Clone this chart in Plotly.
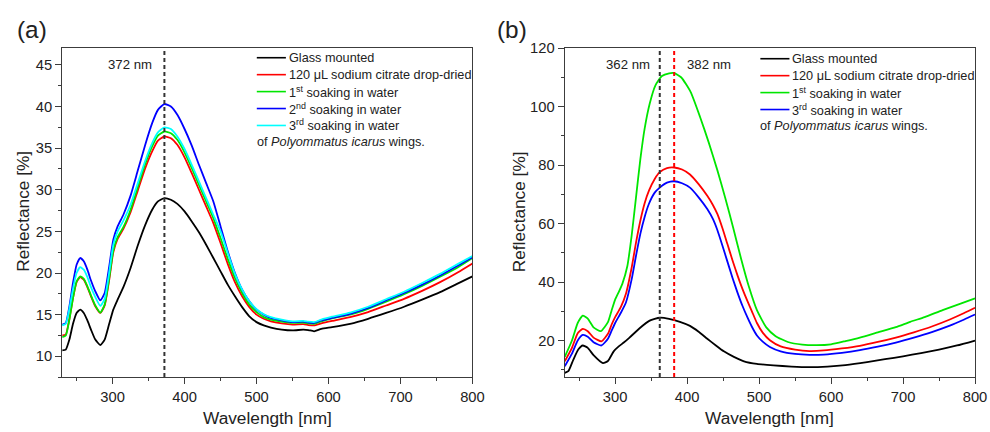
import plotly.graph_objects as go

# ---------------- panel (a): reflectance spectra, 5 sample states ----------------
wl_a = [230, 235, 240, 245, 250, 255, 260, 265, 270, 276, 283, 289, 295, 301, 307,
        315, 325, 335, 345, 355, 363, 372, 381, 390, 400, 410, 420, 430, 440, 450,
        460, 470, 480, 490, 500, 510, 520, 535, 550, 565, 572, 580, 590, 605, 630,
        655, 680, 705, 730, 755, 780, 800]
glass_a = [10.7, 10.8, 12.0, 13.9, 15.2, 15.6, 15.2, 14.3, 13.2, 12.0, 11.35, 12.0, 13.8, 15.6, 16.8,
           18.3, 20.6, 23.3, 25.7, 27.6, 28.6, 29.0, 28.8, 28.3, 27.4, 26.2, 24.9, 23.4, 21.8, 20.2,
           18.6, 17.2, 15.9, 14.8, 14.1, 13.7, 13.45, 13.2, 13.1, 13.2, 13.15, 13.0, 13.3, 13.5, 13.9,
           14.5, 15.2, 15.95, 16.8, 17.7, 18.75, 19.6]
citrate_a = [12.5, 12.6, 14.5, 17.0, 18.9, 19.5, 19.2, 18.3, 17.2, 16.0, 15.2, 16.1, 19.0, 22.5, 24.1,
             25.3, 27.3, 29.9, 32.5, 34.6, 35.9, 36.4, 36.2, 35.4, 33.9, 32.0, 30.0, 28.0, 26.0, 23.6,
             21.1, 18.9, 17.2, 15.9, 15.0, 14.5, 14.2, 13.95, 13.8, 13.85, 13.75, 13.7, 13.95, 14.25, 14.7,
             15.3, 16.1, 16.9, 17.85, 18.9, 20.1, 21.15]
soak1_a = [12.3, 12.5, 14.4, 17.0, 19.0, 19.6, 19.3, 18.4, 17.3, 16.1, 15.25, 16.2, 19.2, 22.7, 24.3,
           25.5, 27.6, 30.3, 33.0, 35.2, 36.5, 37.0, 36.8, 36.0, 34.5, 32.6, 30.6, 28.6, 26.6, 24.2,
           21.7, 19.4, 17.6, 16.2, 15.3, 14.7, 14.4, 14.15, 14.0, 14.05, 13.95, 13.9, 14.2, 14.55, 15.0,
           15.7, 16.55, 17.45, 18.45, 19.55, 20.7, 21.8]
soak2_a = [13.8, 14.0, 16.0, 18.8, 21.0, 21.8, 21.4, 20.4, 19.1, 17.8, 16.7, 17.6, 20.6, 24.0, 25.6,
           27.0, 29.3, 32.3, 35.3, 38.0, 39.6, 40.3, 40.0, 39.0, 37.3, 35.3, 33.0, 30.8, 28.6, 25.6,
           22.6, 20.0, 18.0, 16.6, 15.6, 15.0, 14.6, 14.3, 14.1, 14.15, 14.05, 14.0, 14.3, 14.6, 15.1,
           15.8, 16.7, 17.6, 18.6, 19.7, 20.9, 21.9]
soak3_a = [13.7, 13.9, 15.7, 18.1, 20.0, 20.7, 20.4, 19.5, 18.3, 17.1, 16.05, 16.9, 19.9, 23.4, 25.0,
           26.3, 28.2, 30.8, 33.4, 35.6, 36.9, 37.5, 37.3, 36.4, 34.9, 33.0, 31.0, 29.0, 27.0, 25.0,
           22.4, 19.9, 18.0, 16.6, 15.65, 15.05, 14.7, 14.4, 14.2, 14.25, 14.15, 14.1, 14.4, 14.75, 15.25,
           15.95, 16.85, 17.75, 18.8, 19.9, 21.1, 22.05]

# ---------------- panel (b): reflectance spectra, 4 sample states ----------------
wl_glass_b = [230, 235, 242, 249, 255, 262, 270, 283, 290, 298, 305, 312, 320, 334, 348,
              362, 375, 390, 404, 416, 428, 440, 451, 465, 479, 497, 520, 545, 570, 595,
              620, 650, 675, 700, 725, 750, 775, 800]
glass_b = [8.9, 9.5, 13.5, 17.0, 18.3, 17.5, 15.0, 12.3, 13.0, 16.3, 18.0, 19.3, 21.0, 24.2, 26.8,
           27.8, 27.4, 26.4, 25.0, 23.0, 20.6, 18.3, 16.3, 14.4, 12.9, 12.0, 11.5, 11.1, 10.9, 11.1,
           11.6, 12.6, 13.6, 14.6, 15.7, 16.9, 18.3, 20.0]
wl_rb_b = [230, 240, 248, 255, 262, 270, 281, 290, 295, 300, 308, 315, 323, 329, 335,
           341, 347, 355, 362, 372, 382, 393, 404, 416, 428, 436, 442, 449, 456, 463,
           470, 477, 484, 490, 497, 505, 515, 530, 550, 570, 590, 615, 640, 665, 690,
           715, 740, 765, 785, 800]
citrate_b = [12.9, 17.5, 22.5, 24.0, 23.2, 21.0, 19.7, 22.3, 25.4, 28.0, 31.5, 36.0, 45.0, 53.5, 61.0,
             67.0, 71.3, 75.3, 77.6, 79.0, 79.2, 78.5, 76.8, 73.5, 69.5, 66.3, 63.3, 58.5, 53.0, 47.5,
             42.3, 37.6, 33.4, 30.0, 26.0, 22.7, 20.1, 18.0, 16.9, 16.4, 16.6, 17.3, 18.2, 19.5, 21.0,
             22.8, 24.8, 27.2, 29.4, 31.2]
soak3_b = [11.2, 15.5, 20.0, 21.9, 21.3, 19.4, 18.3, 20.6, 23.3, 26.0, 29.5, 33.0, 41.0, 49.0, 56.5,
           62.3, 66.8, 70.6, 72.3, 74.0, 74.5, 73.8, 72.3, 69.0, 65.0, 61.5, 57.8, 52.5, 47.0, 41.5,
           36.4, 31.8, 27.8, 24.7, 21.7, 19.6, 17.8, 16.3, 15.4, 15.1, 15.2, 15.8, 16.7, 17.9, 19.3,
           21.0, 22.9, 25.1, 27.2, 28.9]
wl_soak1_b = [230, 240, 248, 255, 262, 270, 280, 290, 295, 300, 305, 310, 317, 323, 329,
              335, 341, 348, 356, 365, 375, 382, 392, 405, 418, 430, 442, 453, 464, 475,
              486, 497, 510, 523, 540, 560, 580, 600, 620, 640, 665, 690, 710, 730, 755,
              780, 800]
soak1_b = [14.4, 20.0, 26.0, 28.5, 27.5, 24.5, 23.2, 26.3, 30.2, 34.0, 36.6, 39.4, 45.5, 56.0, 69.0,
           82.0, 92.5, 101.0, 107.3, 110.5, 111.4, 111.5, 110.0, 105.0, 96.5, 87.8, 78.3, 68.8, 58.6, 48.0,
           38.3, 30.4, 24.5, 21.5, 19.5, 18.6, 18.4, 18.7, 19.8, 21.0, 22.8, 24.6, 26.4, 28.0, 30.4,
           32.6, 34.4]

# peak markers (nm)
peak_a = [372]
peak_b = [362, 382]

labels = ["Glass mounted", "120 μL sodium citrate drop-dried", "1<sup>st</sup> soaking in water",
          "2<sup>nd</sup> soaking in water", "3<sup>rd</sup> soaking in water"]
footer = "of <i>Polyommatus icarus</i> wings."

BLACK, RED, GREEN, BLUE, CYAN = "#000000", "#ff0000", "#00e600", "#0000ff", "#00ffff"
AXC = "#3c3c3c"
TXT = "#222222"
FONT = "Liberation Sans, Arial, sans-serif"

# layout is designed on a 990 x 432 page grid; the figure canvas is sized so that
# page coordinates map onto it with a uniform scale S and a top offset OY
S, OY = 0.985, 7.6
W = round(990 / S)
H = round((432 - OY) / S)
FS = 1 / S   # font scale

fig = go.Figure()


def curve(x, y, color, xa, ya):
    fig.add_trace(go.Scatter(x=x, y=y, mode="lines", xaxis=xa, yaxis=ya,
                             line=dict(color=color, width=1.8, shape="spline", smoothing=0.5),
                             showlegend=False, hoverinfo="skip"))


curve(wl_a, glass_a, BLACK, "x", "y")
curve(wl_a, citrate_a, RED, "x", "y")
curve(wl_a, soak1_a, GREEN, "x", "y")
curve(wl_a, soak2_a, BLUE, "x", "y")
curve(wl_a, soak3_a, CYAN, "x", "y")

curve(wl_glass_b, glass_b, BLACK, "x2", "y2")
curve(wl_rb_b, citrate_b, RED, "x2", "y2")
curve(wl_soak1_b, soak1_b, GREEN, "x2", "y2")
curve(wl_rb_b, soak3_b, BLUE, "x2", "y2")


def px(x, y):
    """page-grid pixel -> paper fraction"""
    return (x / S) / W, 1 - ((y - OY) / S) / H


# plot-area boxes on the page grid
left_px = (62, 471)
right_px = (563, 972)
top_px, bot_px = 48, 378
ydom = [px(0, bot_px)[1], px(0, top_px)[1]]


def xax(p, anchor):
    return dict(domain=[px(p[0], 0)[0], px(p[1], 0)[0]], range=[230, 800], anchor=anchor,
                showline=True, linecolor=AXC, linewidth=1.3, mirror=True,
                ticks="outside", ticklen=6, tickwidth=1.2, tickcolor=AXC,
                tick0=0, dtick=100, showgrid=False, zeroline=False,
                tickfont=dict(size=14.5 * FS, color=TXT, family=FONT),
                minor=dict(ticks="outside", ticklen=3, tickwidth=1.1, tickcolor=AXC,
                           dtick=50, tick0=0, showgrid=False))


def yax(rng, dt, anchor):
    return dict(domain=ydom, range=rng, anchor=anchor,
                showline=True, linecolor=AXC, linewidth=1.3, mirror=True,
                ticks="outside", ticklen=6, tickwidth=1.2, tickcolor=AXC,
                tick0=0, dtick=dt, showgrid=False, zeroline=False,
                tickfont=dict(size=14.5 * FS, color=TXT, family=FONT),
                minor=dict(ticks="outside", ticklen=3, tickwidth=1.1, tickcolor=AXC,
                           dtick=dt / 2, tick0=0, showgrid=False))


fig.update_layout(
    width=W, height=H, margin=dict(l=0, r=0, t=0, b=0),
    paper_bgcolor="white", plot_bgcolor="white",
    font=dict(family=FONT, color=TXT),
    xaxis=xax(left_px, "y"), yaxis=yax([7.5, 47], 5, "x"),
    xaxis2=xax(right_px, "y2"), yaxis2=yax([7.5, 120], 20, "x2"),
)

shapes, anns = [], []

# dashed peak lines and their labels
for xr, wl, col, txt, anchor, shift in [("x", peak_a[0], "#333333", "372 nm", "right", -10),
                                        ("x2", peak_b[0], "#333333", "362 nm", "right", -8),
                                        ("x2", peak_b[1], RED, "382 nm", "left", 11)]:
    shapes.append(dict(type="line", xref=xr, yref=("y domain" if xr == "x" else "y2 domain"),
                       x0=wl, x1=wl, y0=0, y1=1,
                       line=dict(color=col, width=2, dash="4px,3px")))
    anns.append(dict(xref=xr, yref="paper", x=wl, y=px(0, 64)[1], text=txt, showarrow=False,
                     xanchor=anchor, yanchor="middle", xshift=shift * FS,
                     font=dict(size=13 * FS, color=TXT, family=FONT)))

# in-plot legends
leg_a = [(BLACK, labels[0]), (RED, labels[1]), (GREEN, labels[2]), (BLUE, labels[3]), (CYAN, labels[4])]
leg_b = [(BLACK, labels[0]), (RED, labels[1]), (GREEN, labels[2]), (BLUE, labels[4])]
for items, x0, rows in [(leg_a, 256, [57.5, 74.5, 91.5, 108.5, 125.5, 142.5]),
                        (leg_b, 758, [58.5, 75.5, 92.5, 109.5, 126.5])]:
    for (col, txt), yy in zip(items, rows):
        a, b = px(x0, yy)
        c, _ = px(x0 + 29, yy)
        shapes.append(dict(type="line", xref="paper", yref="paper", x0=a, x1=c, y0=b, y1=b,
                           line=dict(color=col, width=1.6)))
        anns.append(dict(xref="paper", yref="paper", x=px(x0 + 30, 0)[0], y=b, text=txt,
                         showarrow=False, xanchor="left", yanchor="middle",
                         font=dict(size=12.5 * FS, color=TXT, family=FONT)))
    anns.append(dict(xref="paper", yref="paper", x=px(x0 - 2, 0)[0], y=px(0, rows[-1])[1],
                     text=footer, showarrow=False, xanchor="left", yanchor="middle",
                     font=dict(size=12.5 * FS, color=TXT, family=FONT)))

# axis titles and panel tags
for cx, tag, tagx in [((left_px[0] + left_px[1]) / 2, "(a)", 15), ((right_px[0] + right_px[1]) / 2, "(b)", 493)]:
    anns.append(dict(xref="paper", yref="paper", x=px(cx, 0)[0], y=px(0, 419)[1], text="Wavelength [nm]",
                     showarrow=False, xanchor="center", yanchor="middle",
                     font=dict(size=17 * FS, color=TXT, family=FONT)))
    anns.append(dict(xref="paper", yref="paper", x=px(tagx, 0)[0], y=px(0, 29)[1], text=tag,
                     showarrow=False, xanchor="left", yanchor="middle",
                     font=dict(size=24 * FS, color=TXT, family=FONT)))
for cx in [23, 517]:
    anns.append(dict(xref="paper", yref="paper", x=px(cx, 0)[0], y=px(0, 212)[1], text="Reflectance [%]",
                     showarrow=False, xanchor="center", yanchor="middle", textangle=-90,
                     font=dict(size=17 * FS, color=TXT, family=FONT)))

fig.update_layout(shapes=shapes, annotations=anns)
fig.write_html("out.html")
